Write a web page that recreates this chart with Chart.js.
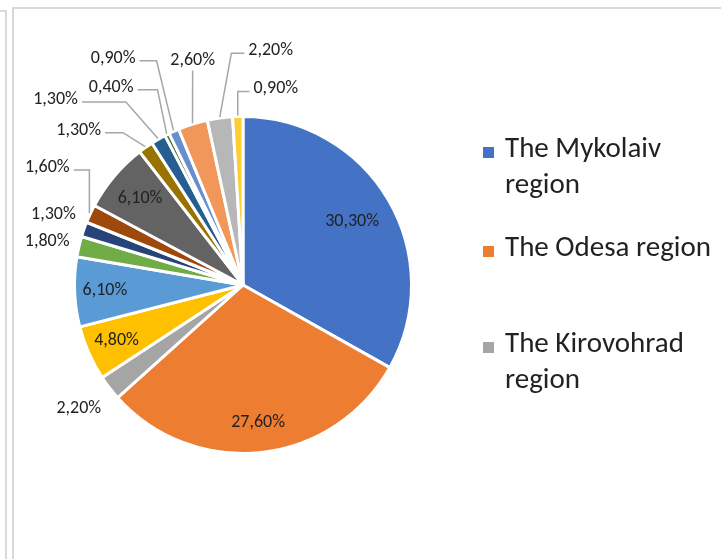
<!DOCTYPE html>
<html>
<head>
<meta charset="utf-8">
<script src="https://cdn.jsdelivr.net/npm/chart.js@4.4.1/dist/chart.umd.min.js"></script>
<style>
  html, body { margin: 0; padding: 0; background: #fff; }
  #wrap { position: relative; width: 721px; height: 559px; overflow: hidden; }
  .side-frame { position: absolute; left: -10px; top: 10px; width: 15px; height: 600px;
    border-top: 2px solid #d9d9d9; border-right: 2px solid #d9d9d9; }
  .chart-frame { position: absolute; left: 12px; top: 7px; width: 800px; height: 600px;
    border-top: 2px solid #d9d9d9; border-left: 2px solid #d9d9d9; }
  #pie { position: absolute; left: 0; top: 0; }
  #legend { position: absolute; left: 483px; top: 129px; margin: 0; padding: 0; list-style: none;
    font-family: Carlito, 'Open Sans', sans-serif; font-size: 29px; line-height: 36px; color: #222; }
  #legend li { position: relative; padding-left: 22px; width: 216px; }
  #legend li span.box { position: absolute; left: 0; top: 18px; width: 11px; height: 11px; }
</style>
</head>
<body>
<div id="wrap">
  <div class="side-frame"></div>
  <div class="chart-frame"></div>
  <canvas id="pie" width="721" height="559"></canvas>
  <ul id="legend"></ul>
</div>
<script>
const regionNames = [
  'The Mykolaiv region', 'The Odesa region', 'The Kirovohrad region',
  '', '', '', '', '', '', '', '', '', '', '', '', ''
];
const shareValues = [30.3, 27.6, 2.2, 4.8, 6.1, 1.8, 1.3, 1.6, 6.1, 1.3, 1.3, 0.4, 0.9, 2.6, 2.2, 0.9];
const sliceColors = [
  '#4472C4', '#ED7D31', '#A5A5A5', '#FFC000', '#5B9BD5', '#70AD47', '#264478', '#9E480E',
  '#636363', '#997300', '#255E91', '#43682B', '#698ED0', '#F1975A', '#B7B7B7', '#FFCD33'
];
const legendCount = 3;
const legendGaps = [0, 27, 60];

// label placement: r = fraction of radius, a = angle (deg, clockwise from top) for outside labels,
// elbow = length of the horizontal leader segment (undefined -> no leader)
const labelPlacement = [
  { r: 0.75 },
  { r: 0.82 },
  { a: 233, r: 1.22 },
  { r: 0.82 },
  { r: 0.82 },
  { a: 282.4, r: 1.19 },
  { a: 290.4, r: 1.2 },
  { a: 301, r: 1.355, elbow: 99 },
  { r: 0.8 },
  { a: 313.3, r: 1.34, elbow: 18 },
  { a: 314.7, r: 1.565, elbow: 44 },
  { a: 326.3, r: 1.41, elbow: 20 },
  { a: 330.2, r: 1.55, elbow: 17 },
  { a: 347.35, r: 1.365, elbow: 0 },
  { a: 6.75, r: 1.4, elbow: 13 },
  { a: 9.5, r: 1.18, elbow: 99 }
];

function formatShare(v) {
  return v.toFixed(2).replace('.', ',') + '%';
}

const pieLabels = {
  id: 'pieLabels',
  afterDatasetsDraw(chart) {
    const ctx = chart.ctx;
    const arcs = chart.getDatasetMeta(0).data;
    ctx.save();
    ctx.font = "18px Carlito, 'Open Sans', sans-serif";
    ctx.textAlign = 'center';
    ctx.textBaseline = 'middle';
    arcs.forEach((arc, i) => {
      const place = labelPlacement[i];
      const text = formatShare(shareValues[i]);
      const cx = arc.x;
      const cy = arc.y;
      const R = arc.outerRadius;
      const mid = (arc.startAngle + arc.endAngle) / 2;
      let lx, ly;
      if (place.a == null) {
        lx = cx + Math.cos(mid) * R * place.r;
        ly = cy + Math.sin(mid) * R * place.r;
      } else {
        const ang = (place.a - 90) * Math.PI / 180;
        lx = cx + Math.cos(ang) * R * place.r;
        ly = cy + Math.sin(ang) * R * place.r;
      }
      if (place.elbow != null) {
        const w = ctx.measureText(text).width;
        const ax = cx + Math.cos(mid) * (R + 1);
        const ay = cy + Math.sin(mid) * (R + 1);
        ctx.strokeStyle = '#a6a6a6';
        ctx.lineWidth = 1.5;
        ctx.beginPath();
        if (Math.abs(ax - lx) < w / 2) {
          ctx.moveTo(lx, ly + 10);
          ctx.lineTo(ax, ay);
        } else {
          const side = ax > lx ? 1 : -1;
          const sx = lx + side * (w / 2 + 4);
          const sy = ly + 2.5;
          const ex = sx + side * Math.min(place.elbow, Math.abs(ax - sx));
          ctx.moveTo(sx, sy);
          ctx.lineTo(ex, sy);
          ctx.lineTo(ax, ay);
        }
        ctx.stroke();
      }
      ctx.fillStyle = '#222';
      ctx.fillText(text, lx, ly);
    });
    ctx.restore();
  }
};

new Chart(document.getElementById('pie'), {
  type: 'pie',
  data: {
    labels: regionNames,
    datasets: [{
      data: shareValues,
      backgroundColor: sliceColors,
      borderColor: '#ffffff',
      borderWidth: 3,
      hoverOffset: 0
    }]
  },
  options: {
    responsive: false,
    animation: false,
    layout: { padding: { left: 73, right: 308, top: 115, bottom: 104 } },
    plugins: {
      legend: { display: false },
      tooltip: { enabled: false }
    }
  },
  plugins: [pieLabels]
});

const legendEl = document.getElementById('legend');
for (let i = 0; i < legendCount; i++) {
  const li = document.createElement('li');
  li.style.marginTop = legendGaps[i] + 'px';
  const box = document.createElement('span');
  box.className = 'box';
  box.style.background = sliceColors[i];
  li.appendChild(box);
  li.appendChild(document.createTextNode(regionNames[i]));
  legendEl.appendChild(li);
}
</script>
</body>
</html>
